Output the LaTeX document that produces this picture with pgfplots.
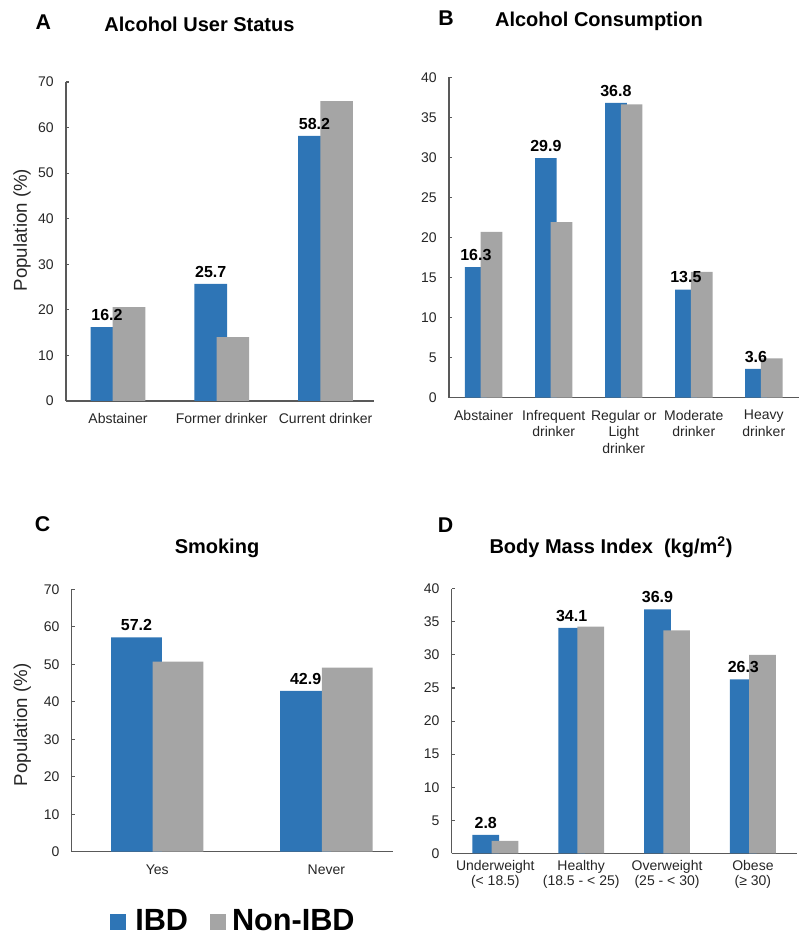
\documentclass[border=0pt]{standalone}
\usepackage{fontspec}
\setmainfont{Liberation Sans}
\usepackage{pgfplots}
\pgfplotsset{compat=1.18}
\definecolor{ibd}{HTML}{2E75B6}
\definecolor{nonibd}{HTML}{A5A5A5}
\definecolor{axisgray}{HTML}{595959}
\pgfplotsset{
  /pgf/number format/assume math mode=true,
  panel/.style={
    scale only axis, anchor=south west, clip=false,
    axis x line*=bottom, axis y line*=left,
    axis line style={draw=axisgray, line width=0.8pt},
    ymin=0, enlargelimits=false,
    xtick style={draw=none},
    ytick style={draw=axisgray, line width=0.8pt},
    tick align=inside, major tick length=2.5pt,
    ytick pos=left,
    tick label style={font=\fontsize{10.5}{12.4}\selectfont, text=black!85},
    yticklabel style={inner sep=0pt, anchor=east, xshift=-9pt},
    xticklabel style={inner sep=0pt, anchor=north, yshift=-9pt, align=center},
    every axis y label/.style={rotate=90, anchor=center, font=\fontsize{14}{16}\selectfont, text=black!85},
  },
  vlab/.style={draw=none, mark=none, nodes near coords,
    every node near coord/.append style={anchor=base, inner sep=0pt, yshift=5pt, xshift=#1,
      font=\bfseries\fontsize{12}{14}\selectfont, text=black}},
}
\begin{document}
\begin{tikzpicture}
\useasboundingbox (0,0) rectangle (600pt,701.25pt);

% ---------- Panel A ----------
\begin{axis}[panel, at={(49.5pt,400.5pt)}, width=231pt, height=239.25pt,
  xmin=-0.501, xmax=2.467, ymax=70, ytick={0,10,...,70},
  xtick={0,1,2}, xticklabels={Abstainer, Former drinker, Current drinker},
  ylabel={Population (\%)},
  every axis y label/.append style={at={(axis description cs:-0.143,0.536)}}]
\addplot[ybar, bar width=24.5pt, bar shift=-8.3pt, fill=ibd, draw=none] coordinates {(0,16.2) (1,25.7) (2,58.2)};
\addplot[ybar, bar width=24.5pt, bar shift=8.3pt, fill=nonibd, draw=none] coordinates {(0,20.6) (1,14.0) (2,65.8)};
\addplot[vlab=-8.3pt] coordinates {(0,16.2) (1,25.7) (2,58.2)};
\end{axis}

% ---------- Panel B ----------
\begin{axis}[panel, at={(336.75pt,403pt)}, width=262.5pt, height=240.3pt,
  xmin=-0.496, xmax=4.503, ymax=40, ytick={0,5,...,40},
  xtick={0,1,2,3,4},
  xticklabels={Abstainer, {Infrequent\\drinker}, {Regular or\\Light\\drinker}, {Moderate\\drinker}, {Heavy\\drinker}}]
\addplot[ybar, bar width=16.3pt, bar shift=-5.9pt, fill=ibd, draw=none] coordinates {(0,16.3) (1,29.9) (2,36.8) (3,13.5) (4,3.6)};
\addplot[ybar, bar width=16.3pt, bar shift=5.9pt, fill=nonibd, draw=none] coordinates {(0,20.7) (1,21.9) (2,36.6) (3,15.7) (4,4.9)};
\addplot[vlab=-5.9pt] coordinates {(0,16.3) (1,29.9) (2,36.8) (3,13.5) (4,3.6)};
\end{axis}

% ---------- Panel C ----------
\begin{axis}[panel, at={(53.78pt,62.48pt)}, width=241pt, height=196.8pt,
  xmin=-0.506, xmax=1.394, ymax=70, ytick={0,10,...,70},
  xtick={0,1}, xticklabels={Yes, Never},
  xticklabel style={yshift=-0.75pt},
  ylabel={Population (\%)},
  every axis y label/.append style={at={(axis description cs:-0.154,0.483)}}]
\addplot[ybar, bar width=38.1pt, bar shift=-15.6pt, fill=ibd, draw=none] coordinates {(0,57.2) (1,42.9)};
\addplot[ybar, bar width=38.1pt, bar shift=15.6pt, fill=nonibd, draw=none] coordinates {(0,50.7) (1,49.1)};
\addplot[vlab=-15.6pt] coordinates {(0,57.2) (1,42.9)};
\end{axis}

% ---------- Panel D ----------
\begin{axis}[panel, at={(338.78pt,61.2pt)}, width=258.75pt, height=198.45pt,
  xmin=-0.508, xmax=3.51, ymax=40, ytick={0,5,...,40},
  xtick={0,1,2,3},
  xticklabel style={yshift=3.75pt, font=\fontsize{10.5}{11.3}\selectfont},
  xticklabels={{Underweight\\(< 18.5)}, {Healthy\\(18.5 - < 25)}, {Overweight\\(25 - < 30)}, {Obese\\(≥ 30)}}]
\addplot[ybar, bar width=20pt, bar shift=-7.2pt, fill=ibd, draw=none] coordinates {(0,2.8) (1,34.1) (2,36.9) (3,26.3)};
\addplot[ybar, bar width=20pt, bar shift=7.2pt, fill=nonibd, draw=none] coordinates {(0,1.9) (1,34.3) (2,33.7) (3,30.0)};
\addplot[vlab=-7.2pt] coordinates {(0,2.8) (1,34.1) (2,36.9) (3,26.3)};
\end{axis}

% ---------- Titles and panel letters ----------
\begin{scope}[every node/.style={anchor=base, inner sep=0pt, text=black}]
\node[font=\bfseries\fontsize{16}{18}\selectfont] at (32.5pt,679.3pt) {A};
\node[font=\bfseries\fontsize{15}{18}\selectfont] at (149.6pt,677.5pt) {Alcohol User Status};
\node[font=\bfseries\fontsize{16}{18}\selectfont] at (334.5pt,681.75pt) {B};
\node[font=\bfseries\fontsize{15}{18}\selectfont] at (449.25pt,681.2pt) {Alcohol Consumption};
\node[font=\bfseries\fontsize{16}{18}\selectfont] at (31.9pt,302.5pt) {C};
\node[font=\bfseries\fontsize{15}{18}\selectfont] at (162.75pt,286.3pt) {Smoking};
\node[font=\bfseries\fontsize{16}{18}\selectfont] at (334.2pt,302pt) {D};
\node[font=\bfseries\fontsize{15}{18}\selectfont] at (458.25pt,286.3pt) {Body Mass Index\ \ (kg/m\textsuperscript{2})};
\end{scope}

% ---------- Legend ----------
\fill[ibd] (82.5pt,3.5pt) rectangle (94.5pt,15.5pt);
\node[anchor=base west, inner sep=0pt, font=\bfseries\fontsize{23}{26}\selectfont] at (101.25pt,3.5pt) {IBD};
\fill[nonibd] (157.5pt,3.5pt) rectangle (169.5pt,15.5pt);
\node[anchor=base west, inner sep=0pt, font=\bfseries\fontsize{23}{26}\selectfont] at (173.8pt,3.5pt) {Non-IBD};
\end{tikzpicture}
\end{document}
